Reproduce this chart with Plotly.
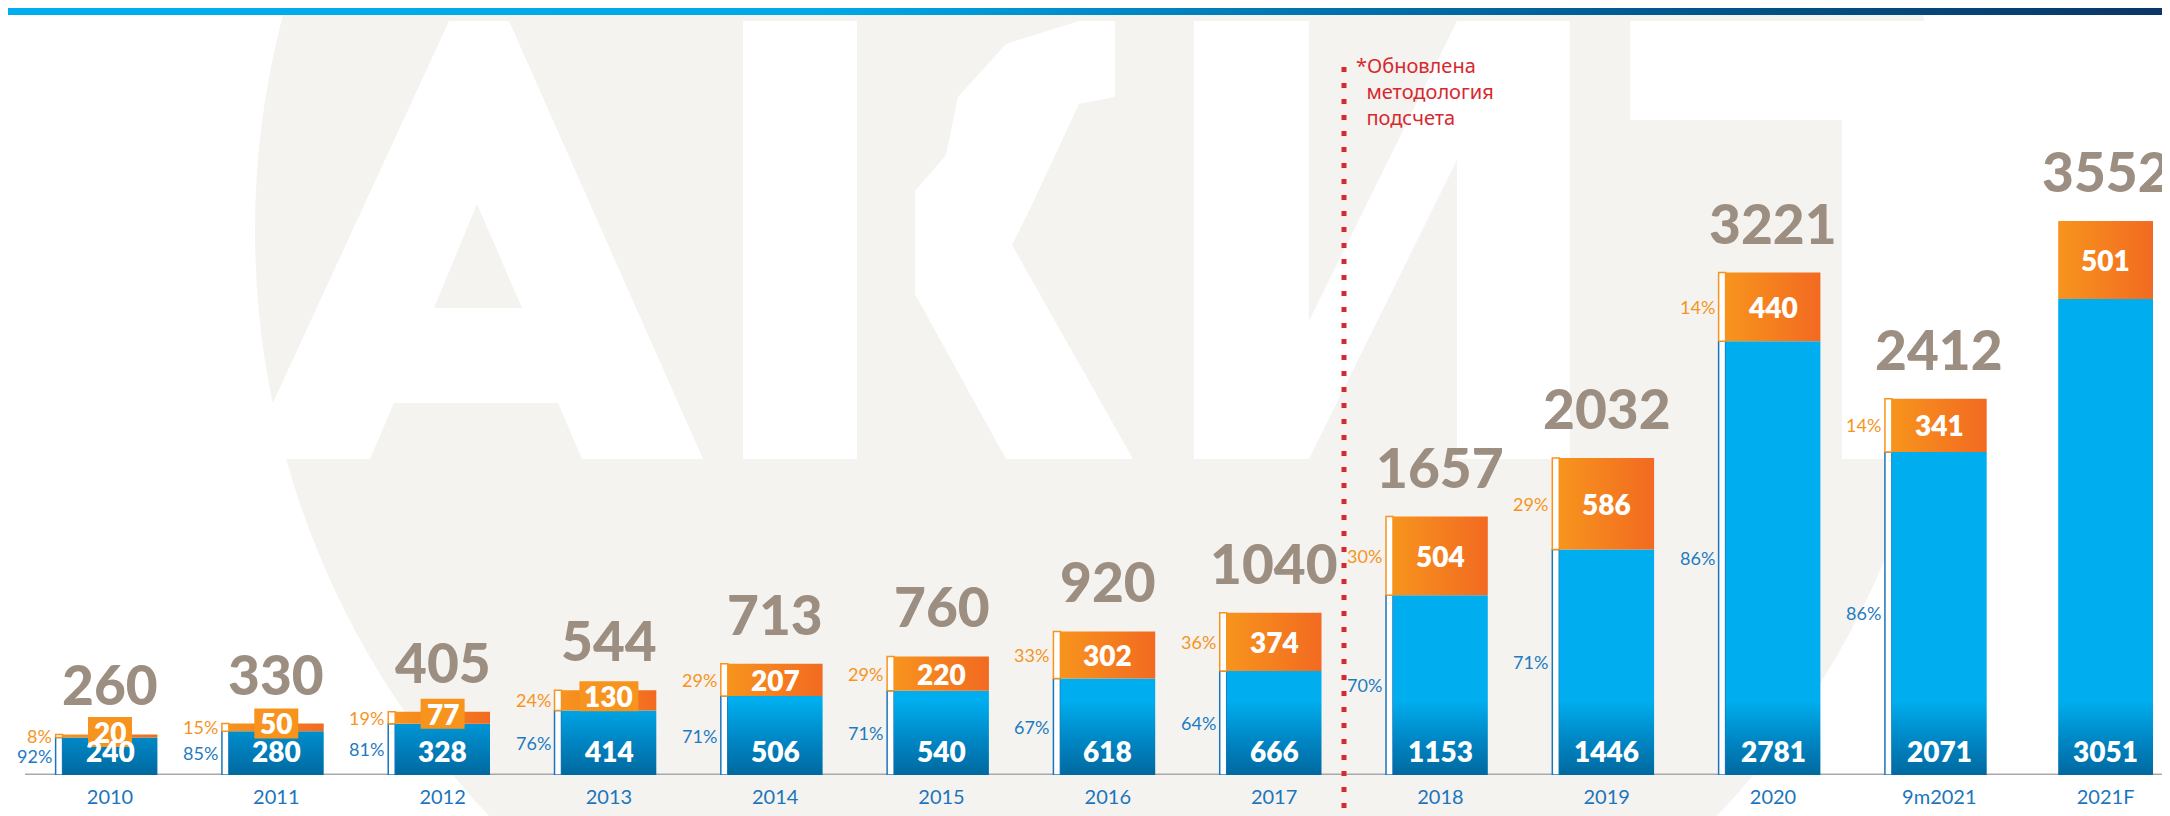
import plotly.graph_objects as go

# ---- data ----
years = ["2010", "2011", "2012", "2013", "2014", "2015", "2016", "2017",
         "2018", "2019", "2020", "9m2021", "2021F"]
blue_vals = [240, 280, 328, 414, 506, 540, 618, 666, 1153, 1446, 2781, 2071, 3051]
orange_vals = [20, 50, 77, 130, 207, 220, 302, 374, 504, 586, 440, 341, 501]
totals = [260, 330, 405, 544, 713, 760, 920, 1040, 1657, 2032, 3221, 2412, 3552]
blue_pct = ["92%", "85%", "81%", "76%", "71%", "71%", "67%", "64%", "70%", "71%", "86%", "86%", None]
orange_pct = ["8%", "15%", "19%", "24%", "29%", "29%", "33%", "36%", "30%", "29%", "14%", "14%", None]
note_text = "*Обновлена<br>\u00a0\u00a0методология<br>\u00a0\u00a0подсчета"

W, H = 2170, 816
STEP = 166.3       # px between bar centres
X0 = 102           # px of first bar centre
BAR_W = 0.57       # bar width in category units
BR_W = 0.042       # bracket strip width
GREY_TXT = "#9C8E80"
BLUE_TXT = "#1F7BC1"
ORANGE = "#F7941D"
RED = "#D7282F"


def paper(pts):
    # pixel (from top-left) -> paper coords path, used for background watermark only
    s = ""
    for k, (x, y) in enumerate(pts):
        s += ("M" if k == 0 else "L") + f"{x / W:.5f},{1 - y / H:.5f} "
    return s + "Z"


fig = go.Figure()

# brackets left of each bar
for i, (b, o) in enumerate(zip(blue_vals, orange_vals)):
    if blue_pct[i] is None:
        continue
    L, R = i - BAR_W / 2 - BR_W, i - BAR_W / 2
    for y0, y1, col in [(0, b, "#1C75BC"), (b, b + o, ORANGE)]:
        fig.add_trace(go.Scatter(
            x=[L, R, R, L, L], y=[y0, y0, y1, y1, y0], mode="lines",
            fill="toself", fillcolor="white", line=dict(color=col, width=1.5),
            hoverinfo="skip", showlegend=False))

# blue segments (vertical gradient, darker at the base)
for i, b in enumerate(blue_vals):
    L, R = i - BAR_W / 2, i + BAR_W / 2
    fig.add_trace(go.Scatter(
        x=[L, R, R, L, L], y=[0, 0, b, b, 0], mode="lines", fill="toself",
        line=dict(width=0),
        fillgradient=dict(type="vertical", start=0, stop=480,
                          colorscale=[[0, "#00699F"], [0.45, "#0085C3"], [1, "#00AEEF"]]),
        hoverinfo="skip", showlegend=False))

# orange segments (horizontal gradient)
for i, (b, o) in enumerate(zip(blue_vals, orange_vals)):
    L, R = i - BAR_W / 2, i + BAR_W / 2
    fig.add_trace(go.Scatter(
        x=[L, R, R, L, L], y=[b, b, b + o, b + o, b], mode="lines", fill="toself",
        line=dict(width=0),
        fillgradient=dict(type="horizontal", start=L, stop=R,
                          colorscale=[[0, "#F7941D"], [1, "#F26A21"]]),
        hoverinfo="skip", showlegend=False))

# top blue strip on its own overlay axes
fig.add_trace(go.Scatter(
    x=[0, 1, 1, 0, 0], y=[0, 0, 1, 1, 0], mode="lines", fill="toself",
    line=dict(width=0), xaxis="x2", yaxis="y2",
    fillgradient=dict(type="horizontal", start=0, stop=1,
                      colorscale=[[0, "#00AEEF"], [0.38, "#00A8E6"], [0.6, "#0073B0"],
                                  [0.78, "#00568C"], [1, "#0B3566"]]),
    hoverinfo="skip", showlegend=False))

shapes = []
# faint "АКИТ" watermark: grey disc with white letters
shapes.append(dict(type="circle", xref="paper", yref="paper", layer="below",
                   x0=247 / W, x1=1943 / W, y0=1 - 1071 / H, y1=1 + 625 / H,
                   fillcolor="#F4F3F0", line=dict(width=0)))
white_polys = [
    [(441, 13), (501, 13), (695, 451), (574, 451), (550, 395), (386, 395), (362, 451), (239, 451)],
    [(735, 13), (849, 13), (849, 451), (735, 451)],
    [(1071, 13), (1107, 13), (1107, 89), (1071, 96), (1022, 201), (1004, 237), (1125, 451),
     (998, 451), (907, 286), (907, 183), (938, 147), (950, 89), (998, 36)],
    [(1186, 13), (1301, 13), (1301, 451), (1186, 451)],
    [(1301, 313), (1449, 13), (1449, 152), (1301, 451)],
    [(1449, 13), (1562, 13), (1562, 451), (1449, 451)],
    [(1622, 13), (2089, 13), (2089, 112), (1622, 112)],
    [(1834, 112), (1943, 112), (1943, 451), (1834, 451)],
]
for p in white_polys:
    shapes.append(dict(type="path", xref="paper", yref="paper", layer="below",
                       path=paper(p), fillcolor="white", line=dict(width=0)))
shapes.append(dict(type="path", xref="paper", yref="paper", layer="below",
                   path=paper([(426, 300), (514, 300), (469, 196)]),
                   fillcolor="#F4F3F0", line=dict(width=0)))

# baseline
shapes.append(dict(type="line", xref="paper", yref="y", x0=17 / W, x1=1, y0=0, y1=0,
                   line=dict(color="#A7A9AC", width=3), layer="below"))
# dotted divider
shapes.append(dict(type="line", xref="paper", yref="paper", x0=1336 / W, x1=1336 / W,
                   y0=0, y1=1 - 52 / H, line=dict(color=RED, width=5, dash="5px,11px")))

# label boxes for thin orange segments (slightly raised above the segment)
for i, (b, o) in enumerate(zip(blue_vals, orange_vals)):
    if o < 150:
        half = (14 + 15 * len(str(o))) / 2
        shapes.append(dict(type="rect", xref="x", yref="y",
                           xsizemode="pixel", xanchor=i, x0=-half, x1=half,
                           ysizemode="pixel", yanchor=b + o / 2, y0=-11, y1=19,
                           fillcolor=ORANGE, line=dict(width=0), layer="above"))

ann = []
for i in range(len(years)):
    b, o, t = blue_vals[i], orange_vals[i], totals[i]
    ann.append(dict(x=i, y=t, text=str(t), showarrow=False, yanchor="bottom", yshift=15,
                    font=dict(family="Lato", size=55, color=GREY_TXT, weight=900)))
    ann.append(dict(x=i, y=0, text=str(b), showarrow=False, yanchor="bottom", yshift=5,
                    font=dict(family="Lato", size=28, color="white", weight=800)))
    ann.append(dict(x=i, y=b + o / 2, text=str(o), showarrow=False, yanchor="middle",
                    yshift=4 if o < 150 else 0,
                    font=dict(family="Lato", size=28, color="white", weight=800)))
    if blue_pct[i] is not None:
        xl = i - BAR_W / 2 - BR_W
        ann.append(dict(x=xl, y=b / 2, text=blue_pct[i], showarrow=False,
                        xanchor="right", yanchor="middle", xshift=-2,
                        font=dict(family="Lato", size=18, color=BLUE_TXT)))
        ann.append(dict(x=xl, y=b + o / 2, text=orange_pct[i], showarrow=False,
                        xanchor="right", yanchor="middle", xshift=-2,
                        font=dict(family="Lato", size=18, color=ORANGE)))

ann.append(dict(xref="paper", yref="paper", x=1346 / W, y=1 - 42 / H, text=note_text,
                showarrow=False, xanchor="left", yanchor="top", align="left",
                font=dict(family="Noto Sans", size=20, color=RED)))

x_lo = -X0 / STEP
x_hi = (W - X0) / STEP
fig.update_layout(
    width=W, height=H,
    margin=dict(l=0, r=0, t=0, b=0),
    paper_bgcolor="white", plot_bgcolor="rgba(0,0,0,0)",
    shapes=shapes, annotations=ann, showlegend=False,
    xaxis=dict(range=[x_lo, x_hi], domain=[0, 1], tickvals=list(range(len(years))),
               ticktext=years, showgrid=False, zeroline=False, showline=False, ticks="",
               ticklabelstandoff=8, automargin=False, fixedrange=True,
               tickfont=dict(family="Lato", size=20, color="#1C75BC")),
    yaxis=dict(range=[0, 767 / 0.156], domain=[1 - 767 / H, 1], visible=False,
               automargin=False, fixedrange=True),
    xaxis2=dict(range=[0, 1], domain=[0, 1], anchor="y2", visible=False),
    yaxis2=dict(range=[0, 1], domain=[1 - 7 / H, 1], anchor="x2", visible=False),
)

fig.write_html("out.html")
